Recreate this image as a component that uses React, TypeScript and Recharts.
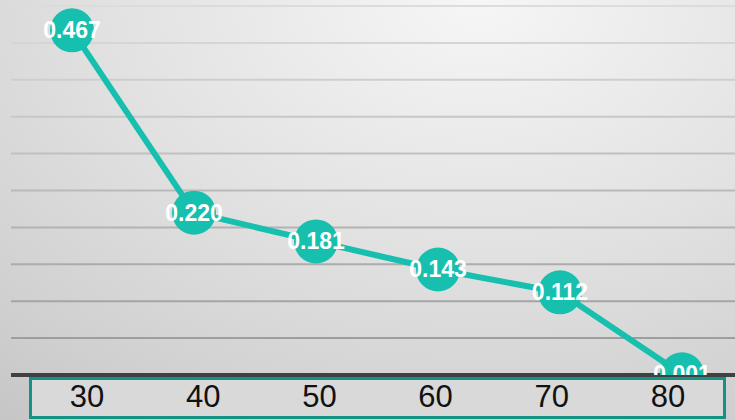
import { LineChart, Line, XAxis, YAxis, CartesianGrid } from "recharts";

const ages = ["30", "40", "50", "60", "70", "80"];
const values = [0.467, 0.22, 0.181, 0.143, 0.112, 0.001];
const yTicks = [0, 0.05, 0.1, 0.15, 0.2, 0.25, 0.3, 0.35, 0.4, 0.45, 0.5];

const data = ages.map((age, i) => ({ age, value: values[i] }));

const TEAL = "#17bfae";

const Dot = (props: any) => {
  const { cx, cy, payload, index } = props;
  if (cx == null || cy == null) return null;
  return (
    <g key={`dot-${index}`}>
      <circle cx={cx} cy={cy} r={22} fill={TEAL} />
      <text
        x={cx}
        y={cy}
        dy={8}
        textAnchor="middle"
        fill="#fff"
        fontSize={23}
        fontWeight="bold"
        fontFamily="Liberation Sans, Arial, sans-serif"
      >
        {payload.value.toFixed(3)}
      </text>
    </g>
  );
};

export default function App() {
  return (
    <div
      style={{
        position: "absolute",
        left: 0,
        top: 0,
        width: 735,
        height: 420,
        overflow: "hidden",
        background:
          "radial-gradient(ellipse 110% 130% at 65% 0%, #f6f6f6 0%, #e2e2e2 45%, #d0d0d0 80%, #c4c4c4 100%)",
      }}
    >
      <div
        style={{
          position: "absolute",
          left: 29,
          top: 377,
          width: 691,
          height: 36,
          border: "3px solid #139383",
          background: "#d9d9d9",
        }}
      />
      <div style={{ position: "absolute", left: 0, top: 0 }}>
        <LineChart
          width={735}
          height={420}
          data={data}
          margin={{ top: 6, right: 0, left: 11, bottom: 0 }}
        >
          <defs>
            <linearGradient id="gridGrad" gradientUnits="userSpaceOnUse" x1="0" y1="0" x2="0" y2="375">
              <stop offset="0%" stopColor="#dddddd" />
              <stop offset="100%" stopColor="#979797" />
            </linearGradient>
          </defs>
          <CartesianGrid vertical={false} stroke="url(#gridGrad)" strokeWidth={2} />
          <YAxis hide domain={[0, 0.5]} ticks={yTicks} allowDataOverflow />
          <Line
            dataKey="value"
            stroke={TEAL}
            strokeWidth={6}
            dot={<Dot />}
            activeDot={false}
            isAnimationActive={false}
          />
          <XAxis
            dataKey="age"
            height={2}
            tick={false}
            tickLine={false}
            axisLine={{ stroke: "#414141", strokeWidth: 4 }}
            padding={{ left: 61, right: 53 }}
          />
          <XAxis
            xAxisId="lbl"
            dataKey="age"
            scale="band"
            height={43}
            axisLine={false}
            tickLine={false}
            padding={{ left: 18, right: 9 }}
            tick={{ fill: "#111", fontSize: 31, fontFamily: "Liberation Sans, Arial, sans-serif" }}
            dy={0}
          />
        </LineChart>
      </div>
    </div>
  );
}
